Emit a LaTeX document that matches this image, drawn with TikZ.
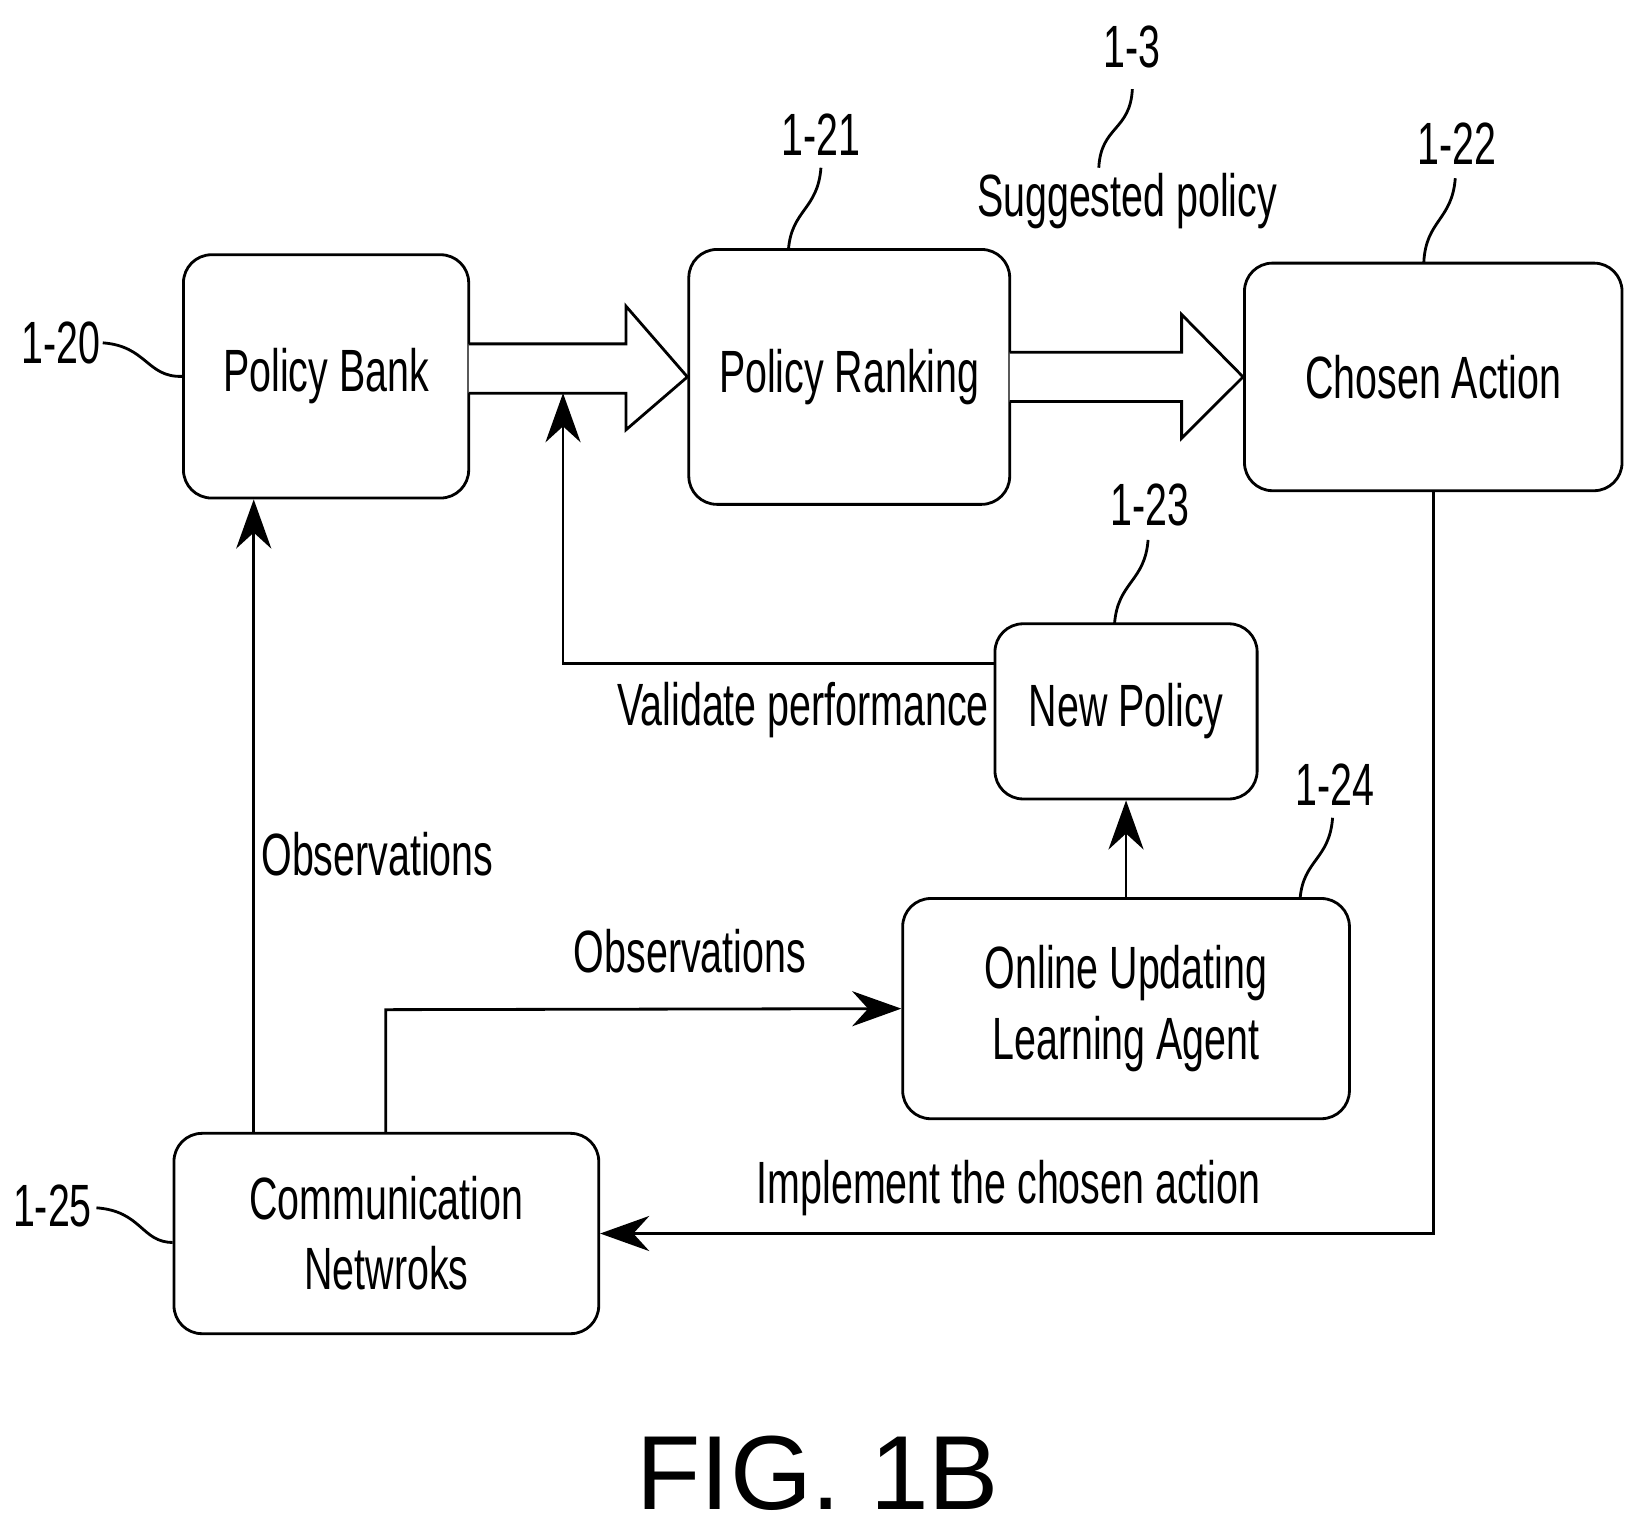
\documentclass[tikz,border=0pt]{standalone}
\usepackage{fontspec}
\setmainfont{Liberation Sans}[FakeStretch=0.66]
\newfontfamily\figfont{Liberation Sans}
\usetikzlibrary{arrows.meta,positioning,calc}
\tikzset{
  blk/.style={draw, thick, rounded corners=8pt, align=center, inner sep=0pt, font=\fontsize{17}{22}\selectfont},
  lbl/.style={font=\fontsize{17}{22}\selectfont},
  conn/.style={thick, -{Stealth[length=14pt,width=10pt]}},
  hollow/.style={draw, thick, fill=white},
  squig/.style={thick}
}
\begin{document}
\begin{tikzpicture}[x=0.0105cm, y=-0.0105cm]
  \useasboundingbox (0,0) rectangle (1568,1462);
  % Blocks
  \node[blk, minimum width=2.856cm, minimum height=2.436cm] (bank) at (311,359) {Policy Bank};
  \node[blk, minimum width=3.213cm, minimum height=2.552cm] (rank) at (810,359.5) {Policy Ranking};
  \node[blk, minimum width=3.78cm, minimum height=2.279cm] (action) at (1367,359.5) {Chosen Action};
  \node[blk, minimum width=2.625cm, minimum height=1.754cm] (newpol) at (1074,678.5) {New Policy};
  \node[blk, minimum width=4.473cm, minimum height=2.205cm] (agent) at (1074,962) {Online Updating\\[-2pt]Learning Agent};
  \node[blk, minimum width=4.253cm, minimum height=2.006cm] (comm) at (368.5,1176.5) {Communication\\[-2pt]Netwroks};

  % Hollow arrows
  \draw[hollow] (447,328) -- (597,328) -- (597,292) -- (rank.west) -- (597,410) -- (597,375) -- (447,375);
  \draw[hollow] (963,336) -- (1127,336) -- (1127,300) -- (action.west) -- (1127,418) -- (1127,383) -- (963,383);

  % Connectors
  \coordinate (valend) at (537,375);
  \draw[conn] ($(newpol.west)+(0,-46)$) -| (valend);
  \node[lbl] (valtxt) at (766,677) {Validate performance};
  \draw[conn] (comm.north -| 242,0) -- (bank.south -| 242,0);
  \node[lbl] (obs1) at (360,815) {Observations};
  \draw[conn] (comm.north -| 368,0) -- (368,963) -- (agent.west);
  \node[lbl] (obs2) at (658,907) {Observations};
  \draw[conn] (agent.north) -- (newpol.south);
  \draw[conn] (action.south) |- (comm.east);
  \node[lbl] (impl) at (962,1133) {Implement the chosen action};
  \node[lbl] (sugg) at (1075,192) {Suggested policy};

  % Reference numerals
  \node[lbl] (r20) at (58,327) {1-20};
  \draw[squig] (98,327) .. controls (140,330) and (140,360) .. (bank.west);
  \node[lbl] (r21) at (783,128) {1-21};
  \draw[squig] (783,160) .. controls (780,200) and (755,200) .. (752,238);
  \node[lbl] (r3) at (1080,45) {1-3};
  \draw[squig] (1080,85) .. controls (1078,125) and (1050,120) .. (1048,160);
  \node[lbl] (r22) at (1390,137) {1-22};
  \draw[squig] (1388,170) .. controls (1385,210) and (1360,210) .. (1358,250);
  \node[lbl] (r23) at (1097,482) {1-23};
  \draw[squig] (1095,515) .. controls (1092,555) and (1066,555) .. (1063,595);
  \node[lbl] (r24) at (1273,748) {1-24};
  \draw[squig] (1271,780) .. controls (1268,820) and (1243,820) .. (1240,857);
  \node[lbl] (r25) at (50,1150) {1-25};
  \draw[squig] (92,1152) .. controls (135,1155) and (135,1185) .. (comm.west |- 0,1185);

  \node[font=\figfont\fontsize{30}{34}\selectfont] (fig) at (780,1405) {FIG. 1B};
\end{tikzpicture}
\end{document}
